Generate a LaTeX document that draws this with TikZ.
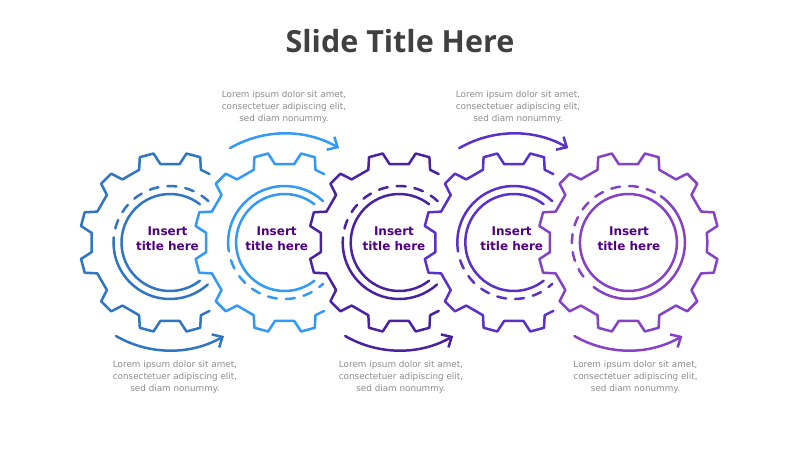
\documentclass[tikz,border=0pt]{standalone}
\usepackage{fontspec}
\setmainfont{DejaVu Sans}
\newfontfamily\titlefont{Open Sans}
\usetikzlibrary{arrows.meta}
\definecolor{gA}{HTML}{2F75C2}
\definecolor{gB}{HTML}{3399F7}
\definecolor{gC}{HTML}{4A22A0}
\definecolor{gD}{HTML}{5A30C8}
\definecolor{gE}{HTML}{8642C6}
\definecolor{ttl}{HTML}{404040}
\definecolor{ins}{HTML}{500080}
\definecolor{lor}{HTML}{8C8C8C}
\tikzset{
  gearline/.style={line width=2.5pt, line cap=round, line join=round},
  dashring/.style={gearline, dash pattern=on 9pt off 9pt},
  turnarrow/.style={line width=2.5pt, line cap=round, -{Straight Barb[length=8pt,width=15pt,line width=2.5pt]}},
  insertlbl/.style={font=\bfseries\fontsize{12}{15.5}\selectfont, text=ins, align=center, inner sep=0pt},
  lorem/.style={font=\fontsize{8.8}{11.8}\selectfont, text=lor, align=center, inner sep=0pt},
}
\begin{document}
\begin{tikzpicture}[x=1pt,y=1pt]
\useasboundingbox (0,0) rectangle (800,450);
\fill[white] (0,0) rectangle (800,450);

\coordinate (g1) at (170,207.5);
\coordinate (g2) at (284.6,207.5);
\coordinate (g3) at (399.2,207.5);
\coordinate (g4) at (513.8,207.5);
\coordinate (g5) at (628.4,207.5);

% gears 1-4 (open on the right)
\foreach \g/\c/\odd in {g1/gA/1, g2/gB/0, g3/gC/1, g4/gD/0} {
  \begin{scope}[shift={(\g)}]
    \draw[gearline,\c] (60:79) \foreach \a in {75,105,...,285} { -- ({\a-8}:79) -- ({\a-4.5}:90.5) -- ({\a+4.5}:90.5) -- ({\a+8}:79) } -- (300:79);
    \draw[gearline,\c] (52:48.5) arc[start angle=52,end angle=308,radius=48.5];
    \ifnum\odd=1
      \draw[dashring,\c] (47:56.5) arc[start angle=47,end angle=180,radius=56.5];
      \draw[gearline,\c] (180:56.5) arc[start angle=180,end angle=312,radius=56.5];
    \else
      \draw[gearline,\c] (47:56.5) arc[start angle=47,end angle=180,radius=56.5];
      \draw[dashring,\c] (180:56.5) arc[start angle=180,end angle=313,radius=56.5];
    \fi
  \end{scope}
}

% gear 5 (complete)
\begin{scope}[shift={(g5)}]
  \draw[gearline,gE] (0:79) \foreach \a in {15,45,...,345} { -- ({\a-8}:79) -- ({\a-4.5}:90.5) -- ({\a+4.5}:90.5) -- ({\a+8}:79) } -- cycle;
  \draw[gearline,gE] (0,0) circle[radius=48.5];
  \draw[dashring,gE] (62:56.5) arc[start angle=62,end angle=225,radius=56.5];
  \draw[gearline,gE] (232:56.5) arc[start angle=232,end angle=415,radius=56.5];
\end{scope}

% turning arrows
\draw[turnarrow,gB] ([shift={(120:109)}]g2) arc[start angle=120,end angle=60,radius=109];
\draw[turnarrow,gD] ([shift={(120:109)}]g4) arc[start angle=120,end angle=60,radius=109];
\draw[turnarrow,gA] ([shift={(240:108)}]g1) arc[start angle=240,end angle=300,radius=108];
\draw[turnarrow,gC] ([shift={(240:108)}]g3) arc[start angle=240,end angle=300,radius=108];
\draw[turnarrow,gE] ([shift={(240:108)}]g5) arc[start angle=240,end angle=300,radius=108];

% labels
\node[font=\titlefont\bfseries\fontsize{30.5}{34}\selectfont, text=ttl] (title) at (400,409) {Slide Title Here};
\node[insertlbl] (t1) at (167.5,211.5) {Insert\\title here};
\node[insertlbl] (t2) at (276.7,211.5) {Insert\\title here};
\node[insertlbl] (t3) at (394,211.5) {Insert\\title here};
\node[insertlbl] (t4) at (511.7,211.5) {Insert\\title here};
\node[insertlbl] (t5) at (629,211.5) {Insert\\title here};

\node[lorem] (l2) at (284,343) {Lorem ipsum dolor sit amet,\\consectetuer adipiscing elit,\\sed diam nonummy.};
\node[lorem] (l4) at (518,343) {Lorem ipsum dolor sit amet,\\consectetuer adipiscing elit,\\sed diam nonummy.};
\node[lorem] (l1) at (175,73) {Lorem ipsum dolor sit amet,\\consectetuer adipiscing elit,\\sed diam nonummy.};
\node[lorem] (l3) at (401,73) {Lorem ipsum dolor sit amet,\\consectetuer adipiscing elit,\\sed diam nonummy.};
\node[lorem] (l5) at (635.5,73) {Lorem ipsum dolor sit amet,\\consectetuer adipiscing elit,\\sed diam nonummy.};
\end{tikzpicture}
\end{document}
